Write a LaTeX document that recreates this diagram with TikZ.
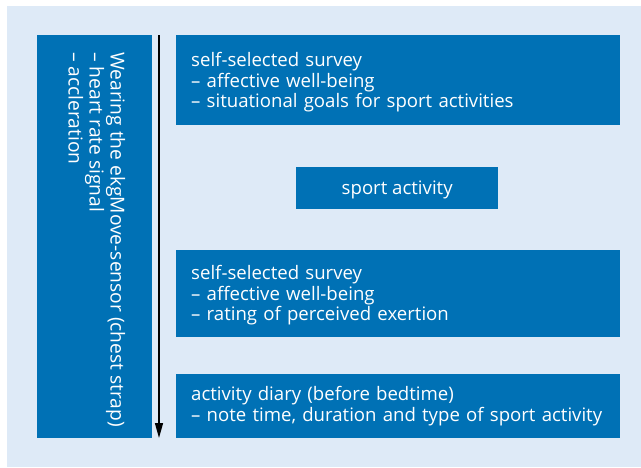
\documentclass[tikz,border=0pt]{standalone}
\usepackage{fontspec}
\setmainfont{Open Sans}
\usetikzlibrary{arrows.meta}
\definecolor{boxblue}{RGB}{0,113,181}
\definecolor{panel}{RGB}{222,234,247}
\begin{document}
\begin{tikzpicture}[x=1pt,y=-1pt,
  txt/.style={font=\fontsize{18.6}{20.8}\selectfont},
  box/.style={txt, fill=boxblue, text=white, anchor=north west, inner xsep=15pt, inner ysep=0pt,
    minimum width=444pt, text width=414pt, align=left},
  smallbox/.style={txt, fill=boxblue, text=white, anchor=north west, inner sep=0pt,
    minimum width=202pt, align=center},
  bar/.style={fill=boxblue, anchor=north west, inner sep=0pt, minimum width=115pt, minimum height=403pt},
  label/.style={text=white, inner sep=0pt, align=left},
]
\useasboundingbox (0,0) rectangle (641,467);
\fill[panel] (7,6) rectangle (641,467);

% sensor bar with its rotated caption
\node[bar] (sensor) at (37,35) {};
\node[label, font=\fontsize{19.2}{21}\selectfont, rotate=-90, anchor=north west] (sensortext) at (125.5,52)
  {Wearing the ekgMove-sensor (chest strap)\\– heart rate signal\\– accleration};

% time line
\coordinate (tstart) at (159,35);
\coordinate (tend) at (159,438);
\draw[line width=1.4pt, -{Triangle[length=15pt,width=8pt]}] (tstart) -- (tend);

% steps of the protocol (boxes first, text nudged slightly down inside each)
\node[box, minimum height=90pt] (survey1) at (176,35) {};
\node[box, fill=none, minimum height=90pt] (survey1text) at (176,37)
  {self-selected survey\\– affective well-being\\– situational goals for sport activities};
\node[smallbox, minimum height=42pt] (sport) at (296,167) {};
\node[smallbox, fill=none, minimum height=42pt] (sporttext) at (296,168.5) {sport activity};
\node[box, minimum height=87pt] (survey2) at (176,250) {};
\node[box, fill=none, minimum height=87pt] (survey2text) at (176,251.5)
  {self-selected survey\\– affective well-being\\– rating of perceived exertion};
\node[box, minimum height=64pt] (diary) at (176,374)
  {activity diary (before bedtime)\\– note time, duration and type of sport activity};
\end{tikzpicture}
\end{document}
